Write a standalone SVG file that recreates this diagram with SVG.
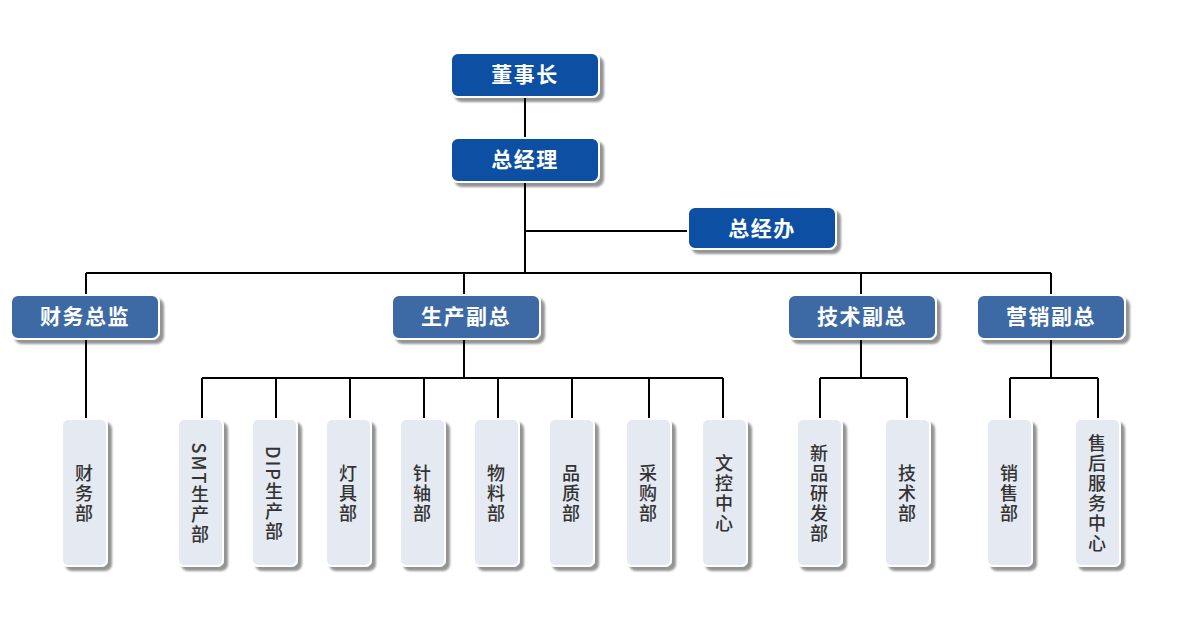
<svg xmlns="http://www.w3.org/2000/svg" width="1191" height="630" viewBox="0 0 1191 630">
<defs>
<filter id="sh" x="-20%" y="-20%" width="150%" height="150%">
<feGaussianBlur in="SourceAlpha" stdDeviation="1.2" result="b"/>
<feOffset dx="4" dy="4" result="o"/>
<feComponentTransfer in="o" result="s"><feFuncA type="linear" slope="0.42"/></feComponentTransfer>
<feMerge><feMergeNode in="s"/><feMergeNode in="SourceGraphic"/></feMerge>
</filter>
</defs>
<style>
.l1{fill:#0b4fa3;stroke:#fff;stroke-width:2;filter:url(#sh)}
.l2{fill:#3d69a5;stroke:#fff;stroke-width:2;filter:url(#sh)}
.l3{fill:#e4e9f2;stroke:#fff;stroke-width:2;filter:url(#sh)}
.t{font-family:"Noto Sans CJK SC","Noto Sans",sans-serif;font-size:21px;font-weight:bold;fill:#fff;text-anchor:middle;letter-spacing:1.5px}
.v{font-family:"Noto Sans CJK SC","Noto Sans",sans-serif;font-size:18px;font-weight:500;fill:#333;writing-mode:vertical-rl;text-anchor:middle;letter-spacing:2px}
.c{fill:none;stroke:#000;stroke-width:2}
</style>
<g id="connectors">
<path class="c" d="M525 97V138 M525 182V273 M525 231H688 M86 273H1051 M86 273V295 M464 273V295 M861 273V295 M1051 273V295"/>
<path class="c" d="M86 339V419"/>
<path class="c" d="M464 339V378 M202 378H723 M202 378V419 M276 378V419 M350 378V419 M424 378V419 M498 378V419 M572 378V419 M649 378V419 M723 378V419"/>
<path class="c" d="M861 339V378 M820 378H907 M820 378V419 M907 378V419"/>
<path class="c" d="M1051 339V378 M1010 378H1098 M1010 378V419 M1098 378V419"/>
</g>
<g id="n-dsz"><rect class="l1" x="451" y="53" width="148" height="44" rx="7"/><text class="t" x="525" y="82">董事长</text></g>
<g id="n-zjl"><rect class="l1" x="451" y="138" width="148" height="44" rx="7"/><text class="t" x="525" y="167">总经理</text></g>
<g id="n-zjb"><rect class="l1" x="688" y="207" width="148" height="42" rx="7"/><text class="t" x="762" y="236">总经办</text></g>
<g id="n-cwzj"><rect class="l2" x="11" y="295" width="148" height="44" rx="7"/><text class="t" x="85" y="324">财务总监</text></g>
<g id="n-scfz"><rect class="l2" x="392" y="295" width="148" height="44" rx="7"/><text class="t" x="466" y="324">生产副总</text></g>
<g id="n-jsfz"><rect class="l2" x="788" y="295" width="148" height="44" rx="7"/><text class="t" x="862" y="324">技术副总</text></g>
<g id="n-yxfz"><rect class="l2" x="977" y="295" width="148" height="44" rx="7"/><text class="t" x="1051" y="324">营销副总</text></g>
<g id="n-cwb"><rect class="l3" x="62" y="419" width="45" height="147" rx="6"/><text class="v" x="84" y="494">财务部</text></g>
<g id="n-smt"><rect class="l3" x="178" y="419" width="45" height="147" rx="6"/><text class="v" x="200" y="494">SMT生产部</text></g>
<g id="n-dip"><rect class="l3" x="252" y="419" width="45" height="147" rx="6"/><text class="v" x="274" y="494">DIP生产部</text></g>
<g id="n-djb"><rect class="l3" x="326" y="419" width="45" height="147" rx="6"/><text class="v" x="348" y="494">灯具部</text></g>
<g id="n-zzb"><rect class="l3" x="400" y="419" width="45" height="147" rx="6"/><text class="v" x="422" y="494">针轴部</text></g>
<g id="n-wlb"><rect class="l3" x="474" y="419" width="45" height="147" rx="6"/><text class="v" x="496" y="494">物料部</text></g>
<g id="n-pzb"><rect class="l3" x="549" y="419" width="45" height="147" rx="6"/><text class="v" x="571" y="494">品质部</text></g>
<g id="n-cgb"><rect class="l3" x="626" y="419" width="45" height="147" rx="6"/><text class="v" x="648" y="494">采购部</text></g>
<g id="n-wkzx"><rect class="l3" x="702" y="419" width="45" height="147" rx="6"/><text class="v" x="724" y="494">文控中心</text></g>
<g id="n-xpyfb"><rect class="l3" x="797" y="419" width="45" height="147" rx="6"/><text class="v" x="819" y="494">新品研发部</text></g>
<g id="n-jsb"><rect class="l3" x="885" y="419" width="45" height="147" rx="6"/><text class="v" x="907" y="494">技术部</text></g>
<g id="n-xsb"><rect class="l3" x="987" y="419" width="45" height="147" rx="6"/><text class="v" x="1009" y="494">销售部</text></g>
<g id="n-shfwzx"><rect class="l3" x="1075" y="419" width="45" height="147" rx="6"/><text class="v" x="1097" y="494">售后服务中心</text></g>
</svg>
